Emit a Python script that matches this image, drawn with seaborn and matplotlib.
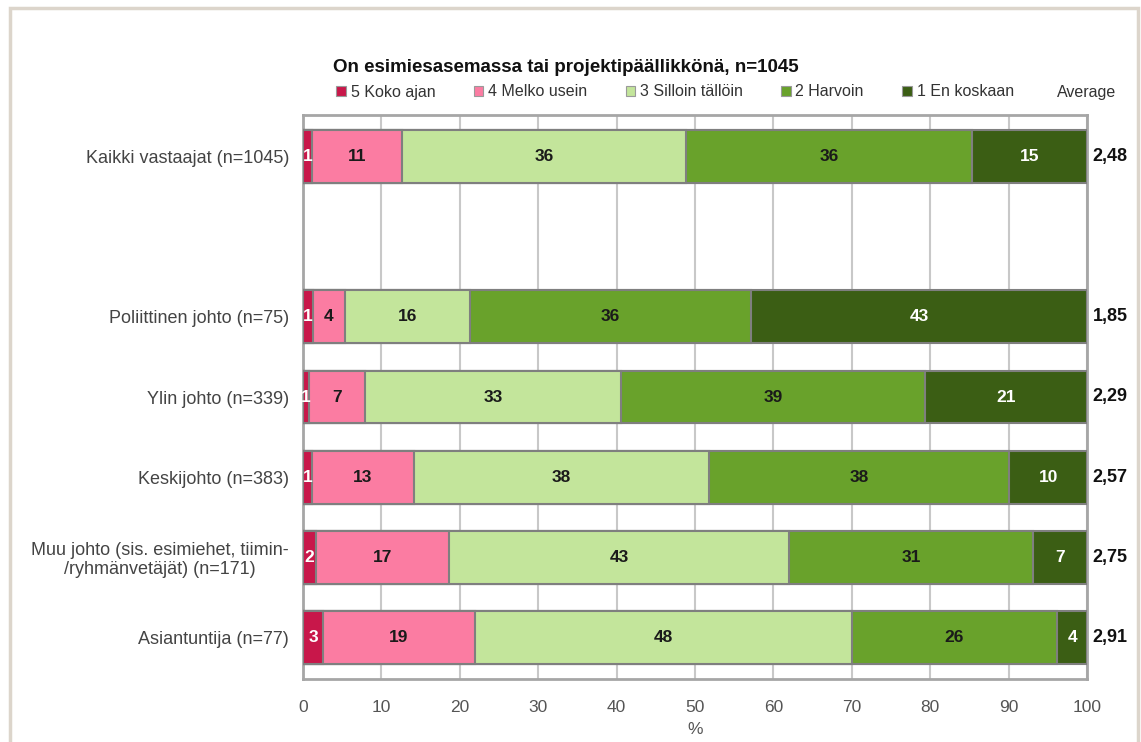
import matplotlib
matplotlib.use("Agg")
import matplotlib.pyplot as plt
from matplotlib.patches import Patch, Rectangle
import seaborn as sns
import pandas as pd
import numpy as np

title = "On esimiesasemassa tai projektipäällikkönä, n=1045"
groups = [
    "Kaikki vastaajat (n=1045)",
    " ",
    "Poliittinen johto (n=75)",
    "Ylin johto (n=339)",
    "Keskijohto (n=383)",
    "Muu johto (sis. esimiehet, tiimin-\n/ryhmänvetäjät) (n=171)",
    "Asiantuntija (n=77)",
]
data_groups = [g for g in groups if g.strip()]
series = ["5 Koko ajan", "4 Melko usein", "3 Silloin tällöin", "2 Harvoin", "1 En koskaan"]
koko_ajan = [1.2, 1.3, 0.8, 1.1, 1.7, 2.6]
melko_usein = [11.4, 4.0, 7.1, 13.1, 16.9, 19.3]
silloin = [36.3, 16.0, 32.7, 37.6, 43.4, 48.1]
harvoin = [36.4, 35.9, 38.8, 38.3, 31.1, 26.2]
en_koskaan = [14.7, 42.8, 20.6, 9.9, 6.9, 3.8]
averages = ["2,48", "1,85", "2,29", "2,57", "2,75", "2,91"]
x_ticks = [0, 10, 20, 30, 40, 50, 60, 70, 80, 90, 100]

colors = ["#c8174a", "#fb7ca2", "#c3e59b", "#69a22b", "#3b5e14"]
text_colors = ["white", "#1a1a1a", "#1a1a1a", "#1a1a1a", "white"]

sns.set_theme(style="white")
plt.rcParams["font.family"] = ["Liberation Sans", "DejaVu Sans"]

fig = plt.figure(figsize=(11.41, 7.42), dpi=100)
ax = fig.add_axes([303 / 1141, 1 - 679 / 742, (1087 - 303) / 1141, (679 - 115) / 742])

vals = np.array([koko_ajan, melko_usein, silloin, harvoin, en_koskaan])
cum = np.cumsum(vals, axis=0)

for k in range(4, -1, -1):
    df = pd.DataFrame({"group": data_groups, "value": cum[k]})
    sns.barplot(data=df, y="group", x="value", order=groups, orient="h",
                color=colors[k], saturation=1, width=0.66,
                edgecolor="#7f7f7f", linewidth=1.5, ax=ax, zorder=3)

ypos = {g: i for i, g in enumerate(groups)}
for j, g in enumerate(data_groups):
    y = ypos[g]
    for k in range(5):
        center = cum[k][j] - vals[k][j] / 2
        ax.text(center, y, f"{round(vals[k][j]):d}", ha="center", va="center",
                fontsize=12.5, fontweight="bold", color=text_colors[k], zorder=5)
    ax.text(100.7, y, averages[j], ha="left", va="center", fontsize=13,
            fontweight="bold", color="#111111", clip_on=False)

ax.set_xlim(0, 100)
ax.set_ylim(6.52, -0.52)
ax.set_xticks(x_ticks)
ax.set_xticklabels([str(t) for t in x_ticks], fontsize=12.5, color="#555555")
ax.set_xlabel("%", fontsize=12.5, color="#555555", labelpad=5)
ax.set_ylabel("")
ax.set_yticks(range(len(groups)))
ax.set_yticklabels(groups, fontsize=13, color="#444444", multialignment="center",
                   linespacing=1.15)
ax.tick_params(axis="both", length=0)
ax.tick_params(axis="y", pad=10)
ax.tick_params(axis="x", pad=15)
ax.grid(axis="x", color="#c8c8c8", linewidth=1.5, zorder=0)
ax.set_axisbelow(True)
for s in ax.spines.values():
    s.set_visible(True)
    s.set_color("#a6a6a6")
    s.set_linewidth(2)

handles = [Patch(facecolor=c, edgecolor="#9a9a9a", linewidth=0.8) for c in colors]
fig.legend(handles, series, loc="center", bbox_to_anchor=(675 / 1141, 1 - 92 / 742),
           ncol=5, frameon=False, fontsize=11.5, handlelength=0.6, handleheight=0.6,
           handletextpad=0.3, columnspacing=2.4, labelcolor="#333333")
fig.text(1087 / 1141, 1 - 92 / 742, "Average", ha="center", va="center",
         fontsize=11.5, color="#333333")
fig.text(333 / 1141, 1 - 67 / 742, title, ha="left", va="center",
         fontsize=13.5, fontweight="bold", color="#111111")

fig.patches.append(Rectangle((10 / 1141, -0.05), (1138 - 10) / 1141, 1.05 - 8 / 742,
                             transform=fig.transFigure, fill=False,
                             edgecolor="#dcd5cb", linewidth=2.5))

fig.savefig("out.png", dpi=100)
